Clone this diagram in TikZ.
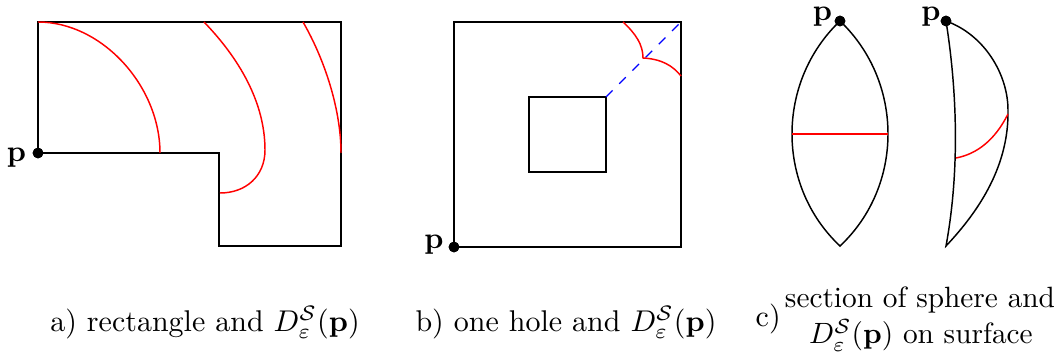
\documentclass[tikz,border=0pt]{standalone}
\usepackage{graphicx}
\newcommand\bigtxt[1]{\scalebox{2.25}{#1}}
\begin{document}
\begin{tikzpicture}[x=0.75pt,y=-0.75pt,line width=1.1pt,line join=miter]
\tikzset{
  redc/.style={red,line width=1.1pt},
  cut/.style={blue,line width=0.9pt,dash pattern=on 7pt off 7pt},
  ball/.style={circle,fill=black,inner sep=0pt,minimum size=8pt},
  lbl/.style={inner sep=0pt,anchor=base}
}
\useasboundingbox (0,0) rectangle (1058,356);
% panel a
\coordinate (a1) at (38,22);
\coordinate (a2) at (341,22);
\coordinate (a3) at (341,246);
\coordinate (a4) at (219,246);
\coordinate (a5) at (219,153);
\node[ball] (pa) at (38,153) {};
\draw (a1) -- (a2) -- (a3) -- (a4) -- (a5) -- (pa.center) -- cycle;
\draw[redc] (a1) .. controls (102,22) and (160,86) .. (160,153);
\draw[redc] (204,22) .. controls (233,52) and (265,97) .. (265,150) .. controls (265,176) and (246,193) .. (220,193);
\draw[redc] (303,22) .. controls (325,60) and (341,110) .. (341,153);
\node[ball] at (pa) {};
\node[lbl] (la) at (16.5,162) {\bigtxt{\textbf{p}}};
\node[lbl] (capa) at (205,331) {\bigtxt{a) rectangle and $D^{\mathcal S}_{\varepsilon}(\mathbf p)$}};
% panel b
\node[ball] (pb) at (454,247) {};
\coordinate (b1) at (681,22);
\coordinate (h0) at (529,172);
\coordinate (h1) at (606,97);
\draw (pb.center) rectangle (b1);
\draw (h0) rectangle (h1);
\draw[cut] (h1) -- (b1);
\draw[redc] (623,22) .. controls (636,34) and (643,45) .. (643,58) .. controls (662,59) and (673,66) .. (681,76);
\node[ball] at (pb) {};
\node[lbl] (lb) at (434,249) {\bigtxt{\textbf{p}}};
\node[lbl] (capb) at (566,331) {\bigtxt{b) one hole and $D^{\mathcal S}_{\varepsilon}(\mathbf p)$}};
% panel c
\node[ball] (pc) at (840,21) {};
\coordinate (c1) at (840,246);
\draw (pc.center) .. controls (776,82) and (776,186) .. (c1) .. controls (904,186) and (904,82) .. (pc.center);
\draw[redc] (792,134) -- (888,134);
\node[ball] at (pc) {};
\node[ball] (pd) at (946,21) {};
\coordinate (d1) at (946,246);
\draw (pd.center) .. controls (985,35) and (1008,75) .. (1008,110) .. controls (1009,165) and (980,210) .. (d1) .. controls (960,170) and (957,90) .. (pd.center);
\draw[redc] (1008,114) .. controls (995,140) and (977,154) .. (956,158);
\node[ball] at (pd) {};
\node[lbl] (lc) at (822.5,21) {\bigtxt{\textbf{p}}};
\node[lbl] (ld) at (931,21) {\bigtxt{\textbf{p}}};
\node[lbl,anchor=base west] (capc) at (755,326) {\bigtxt{c)}};
\node[lbl] (capc1) at (920,308) {\scalebox{2.2}{section of sphere and}};
\node[lbl] (capc2) at (921,344) {\scalebox{2.2}{$D^{\mathcal S}_{\varepsilon}(\mathbf p)$ on surface}};
\end{tikzpicture}
\end{document}
